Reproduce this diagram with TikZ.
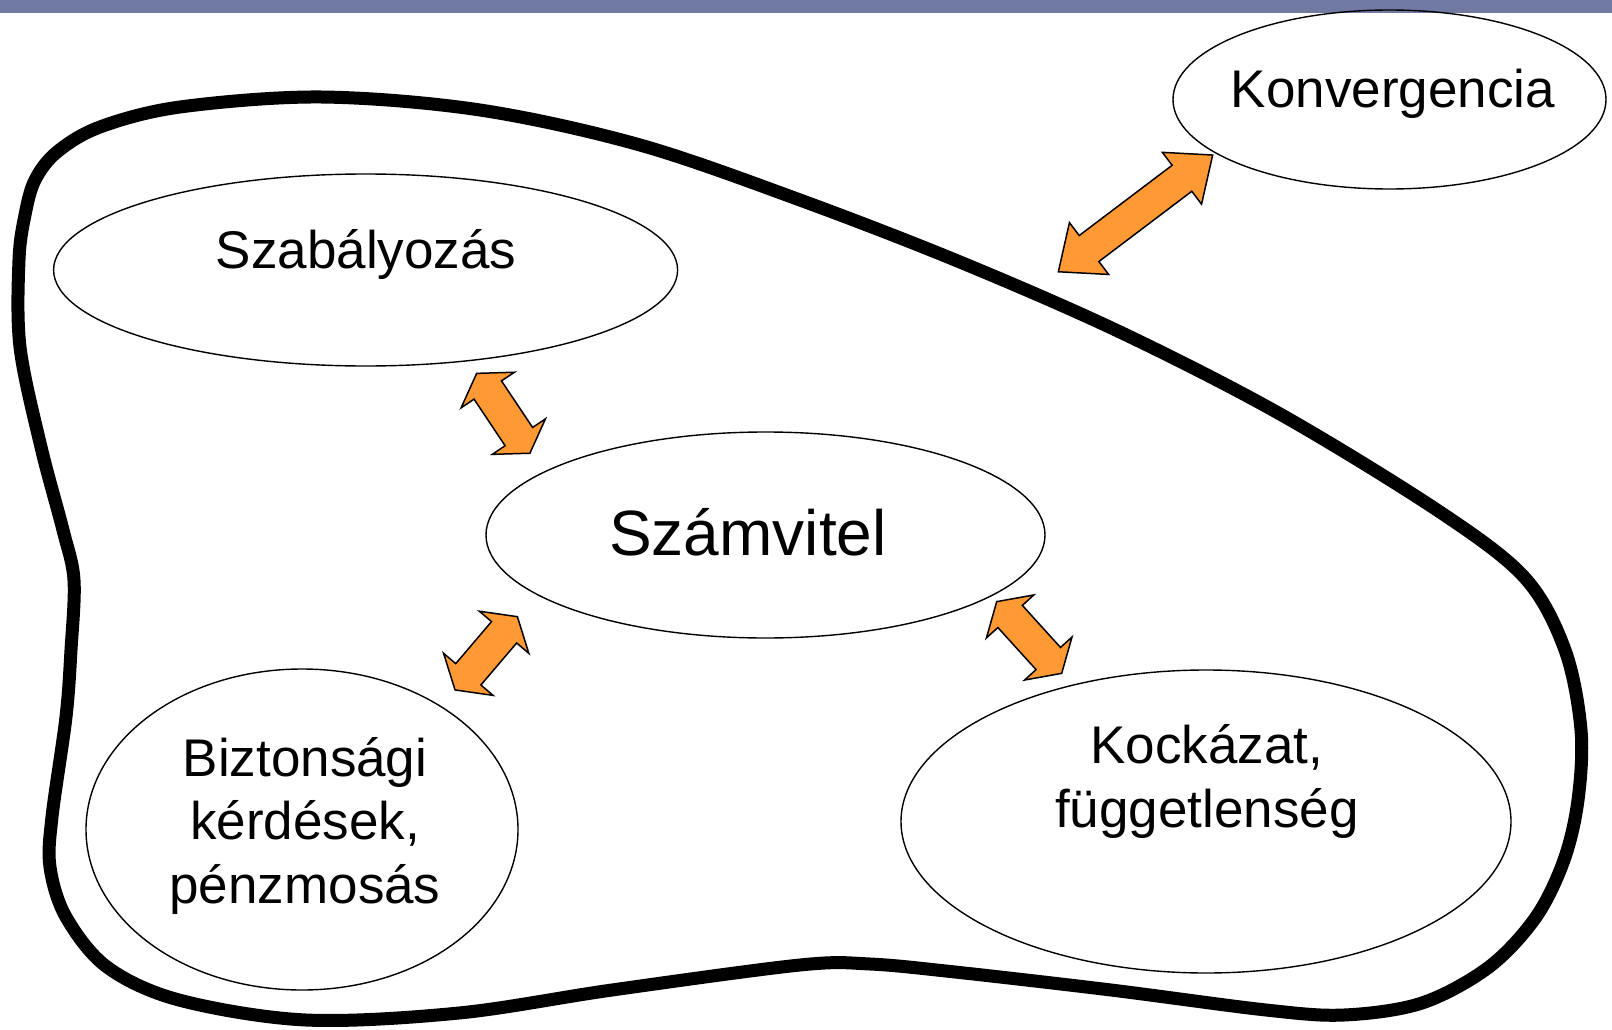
\documentclass[tikz,border=0pt]{standalone}
\usepackage{fontspec}
\setmainfont{Liberation Sans}
\usetikzlibrary{shapes.geometric}
\definecolor{barcol}{RGB}{113,122,163}
\definecolor{arrowfill}{RGB}{255,153,51}
\tikzset{
  ell/.style={draw=black, line width=1.4pt, ellipse, inner sep=0pt},
  lbl/.style={inner sep=0pt, anchor=base, align=center, font=\fontsize{53}{63.5}\selectfont},
  bigbl/.style={inner sep=0pt, anchor=base, font=\fontsize{64}{70}\selectfont},
  arrowsty/.style={draw=black, line width=1.5pt, fill=arrowfill, line join=miter},
  blob/.style={draw=black, line width=13pt, line join=round}
}
% cx cy angle L hl hw sw
\newcommand{\blockarrow}[7]{%
  \begin{scope}[shift={(#1,#2)},rotate=#3]
    \draw[arrowsty] ({-#4/2},0) -- ({-#4/2+#5},#6) -- ({-#4/2+#5},#7) -- ({#4/2-#5},#7)
      -- ({#4/2-#5},#6) -- ({#4/2},0) -- ({#4/2-#5},-#6) -- ({#4/2-#5},-#7)
      -- ({-#4/2+#5},-#7) -- ({-#4/2+#5},-#6) -- cycle;
  \end{scope}}
\begin{document}
\begin{tikzpicture}[x=1pt,y=-1pt]
\useasboundingbox (0,0) rectangle (1612,1030);
\fill[white] (0,0) rectangle (1612,1030);
\fill[barcol] (0,0) rectangle (1612,13);

% outer blob
\draw[blob] plot[smooth cycle, tension=0.55] coordinates {
 (321,97) (480,110) (640,145) (800,200) (960,262) (1120,332) (1280,414)
 (1440,512) (1525,578) (1565,650) (1581,730) (1578,800) (1564,860) (1536,917)
 (1489,967) (1422,1003)
 (1344,1015) (1266,1010) (1111,990) (955,972) (870,964) (800,965) (612,990)
 (459,1013) (306,1020) (179,1000) (107,967) (66,917) (50,867) (52,817)
 (66,717) (71,650) (74,580) (63,530) (41,447) (20,347) (19,260) (25,215)
 (35,180) (57,152) (100,127) (180,107)};

% ellipses
\node[ell, minimum width=433pt, minimum height=179pt] (konv) at (1389.5,99.5) {};
\node[ell, minimum width=624pt, minimum height=192pt] (szab) at (365.6,270) {};
\node[ell, minimum width=559pt, minimum height=206pt] (szamv) at (765.5,535) {};
\node[ell, minimum width=432pt, minimum height=321pt] (bizt) at (302,829.5) {};
\node[ell, minimum width=610pt, minimum height=303pt] (kock) at (1206,821.5) {};

% labels (multi-line nodes: base anchor is the last line's baseline)
\node[lbl] (tkonv) at (1393,108) {Konvergencia};
\node[lbl] (tszab) at (366,268) {Szabályozás};
\node[bigbl] (tszamv) at (748,555) {Számvitel};
\node[lbl] (tbizt) at (305,903) {Biztonsági\\kérdések,\\pénzmosás};
\node[lbl, font=\fontsize{53}{64}\selectfont] (tkock) at (1207,827) {Kockázat,\\függetlenség};

% block arrows
\blockarrow{1135.5}{213.4}{37.1}{193.5}{38.5}{32.5}{16.3}
\blockarrow{503.3}{413.3}{-56.3}{96}{20}{32}{16.5}
\blockarrow{486.2}{653.3}{49.6}{96.2}{20.5}{32.5}{16.5}
\blockarrow{1029.2}{637.5}{-47.8}{96.8}{20}{32}{16.5}
\end{tikzpicture}
\end{document}
